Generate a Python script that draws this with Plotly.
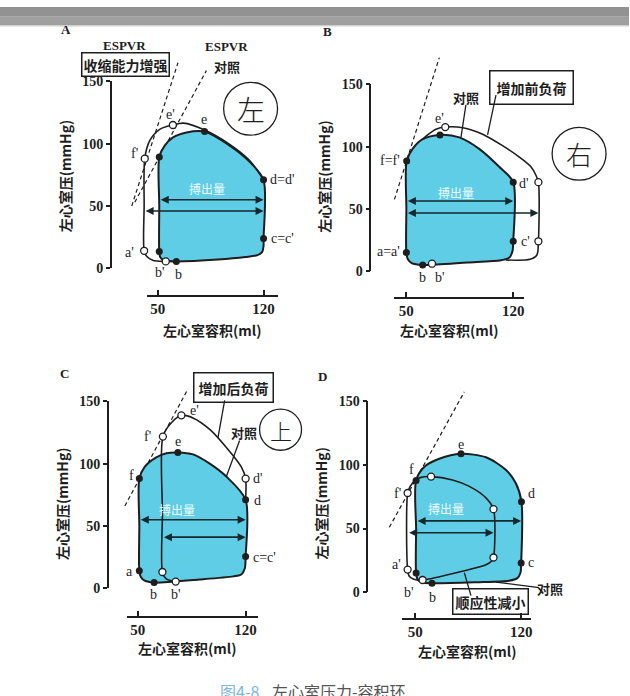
import plotly.graph_objects as go

W, H = 630, 696

# ================= DATA =================
# ---- Panel A : 收缩能力增强 ----
A_ctrl_V = [51, 51, 51.6, 53.5, 57, 62.3, 90, 108, 116, 119, 120, 120, 120, 110.8, 97.6, 81, 69, 60.1, 54.6, 51, 51]
A_ctrl_P = [50, 13.4, 9.0, 6.8, 5.8, 5.5, 7, 9, 10.5, 13, 18, 23.8, 71, 85.4, 98.4, 109.7, 109, 105, 98.4, 89.3, 50]
A_alt_V = [62.3, 55.3, 47, 42.8, 41, 41, 41.4, 44.7, 51.3, 60, 67, 81, 97.6, 110.8, 120]
A_alt_P = [5.5, 5.5, 6.2, 9.4, 14, 50, 88, 102.4, 111.5, 115, 116.5, 111, 99.5, 86.5, 71]
A_closed_V = [51, 62.3, 120, 120, 81, 51]
A_closed_P = [13.4, 5.5, 23.8, 71, 109.7, 89.3]
A_open_V = [41, 55.3, 60, 41.4]
A_open_P = [14, 5.5, 115, 88]
A_espvr = [([32.8, 63.4], [50, 165]), ([34.8, 82.2], [53, 158.7])]
A_sv = [(51, 120, 55), (41, 120, 46)]
A_labels = [("f'", 34.8, 91.9), ("e'", 58.4, 123.3), ("e", 80.4, 119.4), ("d=d'", 132.2, 71),
            ("c=c'", 132.5, 23.5), ("a'", 31.5, 12.8), ("b'", 51.3, -3.7), ("b", 63.4, -5)]
A_sv_text = ("搏出量", 82.4, 64.4)

# ---- Panel B : 增加前负荷 ----
B_ctrl_V = [50, 50, 51, 53.5, 60.7, 90, 112, 117.5, 119.5, 120, 120, 110.8, 97.7, 84.7, 72, 60.7, 54.1, 50.2, 50]
B_ctrl_P = [50, 15, 9.5, 6.5, 5, 7, 8.8, 11, 16, 24, 71.5, 83.8, 98.2, 107.4, 109.4, 106, 98.2, 88.5, 50]
B_alt_V = [115, 131, 135.5, 136.5, 136.5, 134.8, 131.6, 124, 113, 100, 87, 75.5, 69.4, 63.5, 60.7]
B_alt_P = [9, 9.5, 13, 24, 71.5, 77.2, 83.8, 91.6, 100.8, 110, 115.2, 115.7, 113.9, 109, 106]
B_closed_V = [50, 60.7, 120, 120, 72, 50.2]
B_closed_P = [15, 5, 24, 71.5, 109.4, 88.5]
B_open_V = [66.8, 136.5, 136.5, 75.5]
B_open_P = [6, 24, 71.5, 115.7]
B_espvr = [([42.2, 71.6], [57.6, 171.5])]
B_sv = [(50, 120, 56.3), (50, 136.5, 46.7)]
B_labels = [("f=f'", 39.2, 89), ("e'", 72, 122.3), ("d'", 127.2, 70.7), ("c'", 128.3, 23.6),
            ("a=a'", 38.2, 16.2), ("b", 60.3, -5.2), ("b'", 72, -5.2)]
B_sv_text = ("搏出量", 82.5, 62.8)

# ---- Panel C : 增加后负荷 ----
C_ctrl_V = [51, 51, 52, 54.5, 60.6, 90, 112, 117.2, 119.5, 120, 120, 107.5, 96.7, 85.9, 76, 68.6, 62, 54.5, 51, 51]
C_ctrl_P = [50, 14, 9, 6, 4.5, 7, 9.5, 11, 16, 25.4, 71, 89.6, 100, 107.4, 109, 108.4, 105, 97.4, 88, 50]
C_alt_V = [74.6, 68.5, 66, 66, 66.3, 71.8, 78.3, 85.8, 96.7, 107.5, 117.2, 120, 120]
C_alt_P = [5.3, 7.5, 13, 60, 121.7, 132.8, 138.8, 136.7, 127.5, 113, 97.4, 88, 71]
C_closed_V = [51, 60.6, 120, 120, 76, 51]
C_closed_P = [14, 4.5, 25.4, 71, 109, 88]
C_open_V = [66, 74.6, 120, 78.3, 66.3]
C_open_P = [13, 5.3, 88, 138.8, 121.7]
C_espvr = [([41.6, 82.6], [66, 160])]
C_sv = [(51, 120, 55), (66, 120, 41)]
C_labels = [("f'", 56.5, 121.8), ("e'", 86.9, 143), ("e", 75.9, 117.8), ("f", 46.1, 90.3),
            ("d'", 127.8, 88), ("d", 127.8, 70.7), ("c=c'", 132, 24.4), ("a", 44.8, 13.4),
            ("b", 60.4, -4.7), ("b'", 74.6, -4.7)]
C_sv_text = ("搏出量", 75.3, 62.8)

# ---- Panel D : 顺应性减小 ----
D_ctrl_V = [50.5, 50.5, 51.5, 54, 61, 90, 112, 117.5, 119.5, 120, 120.2, 116.5, 110, 96.7, 80.2, 65.8, 56, 50.5, 50.5]
D_ctrl_P = [50, 15, 10, 7.8, 7, 7.8, 9, 11, 15, 22.8, 71, 85.6, 96, 106, 108.7, 104.8, 98.5, 87.7, 50]
D_alt_V = [60.4, 53.8, 50, 46.5, 44.9, 44.9, 46, 49, 54.8, 81.2, 96.7, 100.5, 101.7, 101.7, 96.7, 85.7, 74.6, 60.4]
D_alt_P = [90.8, 90.2, 88, 83, 77.9, 17.7, 12.5, 10.2, 9.5, 16.4, 21.5, 24.5, 27.2, 65.2, 74.1, 83.1, 88.2, 90.8]
D_closed_V = [50.5, 61, 120, 120.2, 80.2, 50.5]
D_closed_P = [15, 7, 22.8, 71, 108.7, 87.7]
D_open_V = [44.9, 44.9, 54.8, 101.7, 101.7, 60.4]
D_open_P = [77.9, 17.7, 9.5, 27.2, 65.2, 90.8]
D_espvr = [([32.8, 82.4], [51, 157.4])]
D_sv = [(50.5, 120, 56), (44.9, 101.7, 46.7)]
D_labels = [("f", 47.4, 96.2), ("e", 80.4, 116.2), ("f'", 38.1, 77.7), ("d", 126.6, 77.7),
            ("c", 126.6, 23), ("a'", 37.5, 21.5), ("b'", 46, 0), ("b", 61.2, -4.6)]
D_sv_text = ("搏出量", 70.5, 65.4)

Y_TICKS = [0, 50, 100, 150]
X_TICKS = [50, 120]
Y_TITLE = "左心室压(mmHg)"
X_TITLE = "左心室容积(ml)"

# ================= LAYOUT CONFIG =================
PANELS = [
    dict(key='A', X0=158, sx=1.514, Y0=267, sy=1.273, box=(40, 22, 322, 352), yaxx=111, xaxy=295,
         xspan=(147, 278), letter=(66, 23), ytitle=(65, 172), xtitle=(213, 330)),
    dict(key='B', X0=407, sx=1.529, Y0=270, sy=1.273, box=(322, 22, 630, 352), yaxx=371, xaxy=297,
         xspan=(395, 525), letter=(328, 25), ytitle=(325, 173), xtitle=(450, 330)),
    dict(key='C', X0=138, sx=1.543, Y0=594, sy=1.273, box=(40, 365, 322, 645), yaxx=108, xaxy=623,
         xspan=(127, 258), letter=(65, 375), ytitle=(62, 507), xtitle=(188, 655)),
    dict(key='D', X0=416, sx=1.514, Y0=598, sy=1.30, box=(322, 365, 630, 645), yaxx=368, xaxy=625,
         xspan=(403, 532), letter=(323, 378), ytitle=(322, 507), xtitle=(468, 658)),
]
DATA = {
    'A': (A_ctrl_V, A_ctrl_P, A_alt_V, A_alt_P, A_closed_V, A_closed_P, A_open_V, A_open_P, A_espvr, A_sv, A_labels, A_sv_text),
    'B': (B_ctrl_V, B_ctrl_P, B_alt_V, B_alt_P, B_closed_V, B_closed_P, B_open_V, B_open_P, B_espvr, B_sv, B_labels, B_sv_text),
    'C': (C_ctrl_V, C_ctrl_P, C_alt_V, C_alt_P, C_closed_V, C_closed_P, C_open_V, C_open_P, C_espvr, C_sv, C_labels, C_sv_text),
    'D': (D_ctrl_V, D_ctrl_P, D_alt_V, D_alt_P, D_closed_V, D_closed_P, D_open_V, D_open_P, D_espvr, D_sv, D_labels, D_sv_text),
}

INK = '#1e1e1e'
CYAN = '#5fcde5'
SERIF = 'Liberation Serif'
CJK = 'Noto Sans CJK SC'

fig = go.Figure()
layout = dict(width=W, height=H, margin=dict(l=0, r=0, t=0, b=0), paper_bgcolor='white',
              plot_bgcolor='rgba(0,0,0,0)', showlegend=False)
annotations = []
shapes = []


def px2x(px):
    return px / W


def py2y(py):
    return 1 - py / H


def pap(px, py):
    return dict(x=px2x(px), y=py2y(py), xref='paper', yref='paper', showarrow=False,
                xanchor='center', yanchor='middle')


for i, pc in enumerate(PANELS, start=1):
    X0, sx, Y0, sy = pc['X0'], pc['sx'], pc['Y0'], pc['sy']
    Vof = lambda px: 50 + (px - X0) / sx
    Pof = lambda py: (Y0 - py) / sy
    L, T, R, B = pc['box']
    xn = 'x' if i == 1 else f'x{i}'
    yn = 'y' if i == 1 else f'y{i}'
    xk = 'xaxis' if i == 1 else f'xaxis{i}'
    yk = 'yaxis' if i == 1 else f'yaxis{i}'
    layout[xk] = dict(domain=[px2x(L), px2x(R)], range=[Vof(L), Vof(R)], visible=False, anchor=yn, fixedrange=True)
    layout[yk] = dict(domain=[py2y(B), py2y(T)], range=[Pof(B), Pof(T)], visible=False, anchor=xn, fixedrange=True)
    # visible axes
    j = i + 4
    xs0, xs1 = pc['xspan']
    layout[f'xaxis{j}'] = dict(domain=[px2x(xs0), px2x(xs1)], range=[Vof(xs0), Vof(xs1)], anchor='free',
                               position=py2y(pc['xaxy']), showline=True, linecolor=INK, linewidth=1.5,
                               ticks='inside', ticklen=5, tickwidth=1.5, tickcolor=INK, tickvals=X_TICKS,
                               tickfont=dict(family=SERIF, size=15, color=INK, weight='bold'),
                               showgrid=False, zeroline=False, fixedrange=True)
    layout[f'yaxis{j}'] = dict(domain=[py2y(Y0), py2y(Y0 - 150 * sy)], range=[0, 150], anchor='free',
                               position=px2x(pc['yaxx']), showline=True, linecolor=INK, linewidth=1.5,
                               ticks='outside', ticklen=4, tickwidth=1.5, tickcolor=INK, tickvals=Y_TICKS,
                               tickfont=dict(family=SERIF, size=14, color=INK, weight='bold'),
                               showgrid=False, zeroline=False, fixedrange=True)
    fig.add_trace(go.Scatter(x=[None], y=[None], xaxis=f'x{j}', yaxis=f'y{j}', hoverinfo='skip'))

    (cV, cP, aV, aP, clV, clP, opV, opP, espvr, sv, labels, svt) = DATA[pc['key']]
    # ESPVR dashed lines
    for ev, ep in espvr:
        fig.add_trace(go.Scatter(x=ev, y=ep, mode='lines', xaxis=xn, yaxis=yn,
                                 line=dict(color=INK, width=1.2, dash='4px,3px'), hoverinfo='skip'))
    # control loop (filled)
    fig.add_trace(go.Scatter(x=cV, y=cP, mode='lines', fill='toself', fillcolor=CYAN, xaxis=xn, yaxis=yn,
                             line=dict(color=INK, width=2, shape='spline', smoothing=0.8), hoverinfo='skip'))
    # altered loop
    fig.add_trace(go.Scatter(x=aV, y=aP, mode='lines', xaxis=xn, yaxis=yn,
                             line=dict(color=INK, width=1.6, shape='spline', smoothing=0.8), hoverinfo='skip'))
    # points
    fig.add_trace(go.Scatter(x=clV, y=clP, mode='markers', xaxis=xn, yaxis=yn,
                             marker=dict(size=7, color=INK), hoverinfo='skip'))
    fig.add_trace(go.Scatter(x=opV, y=opP, mode='markers', xaxis=xn, yaxis=yn,
                             marker=dict(size=7, color='white', line=dict(color=INK, width=1.3)), hoverinfo='skip'))
    # stroke volume arrows
    for vl, vr, p in sv:
        annotations.append(dict(x=vr, y=p, ax=vl, ay=p, xref=xn, yref=yn, axref=xn, ayref=yn, text='',
                                showarrow=True, arrowhead=2, arrowside='end+start', arrowsize=1,
                                arrowwidth=1.6, arrowcolor='#15282e'))
    annotations.append(dict(x=svt[1], y=svt[2], xref=xn, yref=yn, text=svt[0], showarrow=False,
                            font=dict(family=CJK, size=12, color='#eefbfe')))
    for t, v, p in labels:
        annotations.append(dict(x=v, y=p, xref=xn, yref=yn, text=t, showarrow=False,
                                font=dict(family=SERIF, size=14, color=INK)))
    # panel letter, axis titles
    annotations.append({**pap(*pc['letter']), 'text': pc['key'],
                        'font': dict(family=SERIF, size=13, color=INK, weight='bold')})
    annotations.append({**pap(*pc['ytitle']), 'text': Y_TITLE, 'textangle': -90,
                        'font': dict(family=CJK, size=14, color=INK, weight='bold')})
    annotations.append({**pap(*pc['xtitle']), 'text': X_TITLE,
                        'font': dict(family=CJK, size=14, color=INK, weight='bold')})


# Panel A extra text
annotations.append({**pap(125, 39), 'text': 'ESPVR', 'font': dict(family=SERIF, size=13, color=INK, weight='bold')})
annotations.append({**pap(227, 40), 'text': 'ESPVR', 'font': dict(family=SERIF, size=13, color=INK, weight='bold')})
annotations.append({**pap(227, 61), 'text': '对照', 'font': dict(family=CJK, size=13, color=INK, weight='bold')})
annotations.append({**pap(126, 59), 'text': '收缩能力增强', 'font': dict(family=CJK, size=14, color=INK, weight='bold'),
                    'bordercolor': INK, 'borderwidth': 1.5, 'borderpad': 1})
# Panel B extra text
annotations.append({**pap(467, 92), 'text': '对照', 'font': dict(family=CJK, size=13, color=INK, weight='bold')})
annotations.append({**pap(532, 82), 'text': '增加前负荷', 'font': dict(family=CJK, size=14, color=INK, weight='bold'),
                    'bordercolor': INK, 'borderwidth': 1.5, 'borderpad': 6})
# Panel C extra text
annotations.append({**pap(234, 389), 'text': '增加后负荷', 'font': dict(family=CJK, size=14, color=INK, weight='bold'),
                    'bordercolor': INK, 'borderwidth': 1.5, 'borderpad': 4})
annotations.append({**pap(244, 435), 'text': '对照', 'font': dict(family=CJK, size=13, color=INK, weight='bold')})
# Panel D extra text
annotations.append({**pap(551, 594), 'text': '对照', 'font': dict(family=CJK, size=13, color=INK, weight='bold')})
annotations.append({**pap(491, 608), 'text': '顺应性减小', 'font': dict(family=CJK, size=14, color=INK, weight='bold'),
                    'bordercolor': INK, 'borderwidth': 1.5, 'borderpad': 2})
# handwritten marks
for ch, cx, cy, r, fs in [('左', 251, 104, 27, 28), ('右', 580, 150, 27, 26), ('上', 281, 432, 21, 22)]:
    annotations.append({**pap(cx, cy), 'text': ch, 'font': dict(family=CJK, size=fs, color=INK, weight=300)})
    shapes.append(dict(type='circle', xref='paper', yref='paper', x0=px2x(cx - r), x1=px2x(cx + r),
                       y0=py2y(cy + r), y1=py2y(cy - r), line=dict(color=INK, width=1.3)))

# leader lines (data coords)
leaders = [(2, (89, 133.5), (85.8, 107.6)), (2, (108.7, 141.4), (103.2, 109.5)),
           (3, (106.4, 150.8), (102, 120.5)), (3, (116.1, 118.6), (107.5, 89.6)),
           (4, (103.3, 7.9), (131.9, 3.6)), (4, (86.8, -2.8), (82.4, 15.2))]
for i, (v0, p0), (v1, p1) in leaders:
    shapes.append(dict(type='line', xref=f'x{i}', yref=f'y{i}', x0=v0, y0=p0, x1=v1, y1=p1,
                       line=dict(color=INK, width=1.3)))

# top gray bar
shapes.append(dict(type='rect', xref='paper', yref='paper', x0=0, x1=1, y0=py2y(10), y1=1,
                   fillcolor='#929292', line=dict(width=0), layer='above'))
shapes.append(dict(type='rect', xref='paper', yref='paper', x0=0, x1=1, y0=py2y(19), y1=py2y(10),
                   fillcolor='#9f9f9f', line=dict(width=0), layer='above'))
shapes.append(dict(type='rect', xref='paper', yref='paper', x0=0, x1=1, y0=py2y(20), y1=py2y(19),
                   fillcolor='#d0d0d0', line=dict(width=0), layer='above'))

# caption (cut off at bottom)
annotations.append({**pap(240, 699), 'text': '图4-8', 'font': dict(family=CJK, size=16, color='#7db6dc')})
annotations.append({**pap(270, 699), 'text': '左心室压力-容积环', 'xanchor': 'left',
                    'font': dict(family=CJK, size=16, color='#555555')})

layout['annotations'] = annotations
layout['shapes'] = shapes
fig.update_layout(**layout)
fig.write_html("out.html")
